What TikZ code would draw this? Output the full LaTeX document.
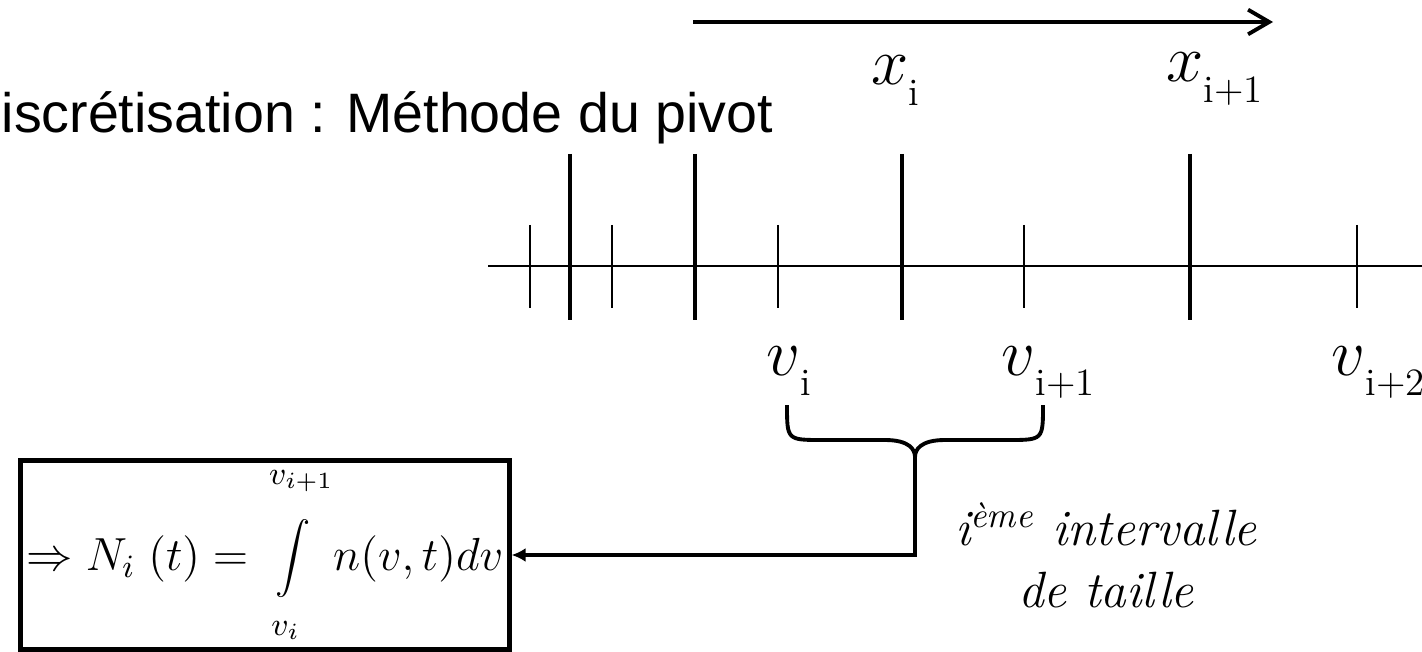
\RequirePackage{fix-cm}
\documentclass[tikz,border=0pt]{standalone}
\usepackage{fontspec}
\newfontfamily\sansfont{Liberation Sans}
\usetikzlibrary{arrows.meta}
\newcommand{\idx}[2]{$#1$\raisebox{-0.3em}{\fontsize{11}{13}\selectfont #2}}

\begin{document}
\begin{tikzpicture}[x=0.01cm,y=-0.01cm,
  axe/.style={line width=0.8pt},
  pivot/.style={line width=1.2pt},
  borne/.style={line width=0.7pt},
  lab/.style={anchor=base west,inner sep=0pt,font=\fontsize{19}{22}\selectfont},
  link/.style={line width=1.3pt,-{Latex[length=4pt,width=4pt]}}]
  \useasboundingbox (0,0) rectangle (1422,652);
  % title
  \node[anchor=base west,inner sep=0pt,font=\sansfont\fontsize{15.8}{18}\selectfont] (T) at (1,133) {iscrétisation : Méthode du pivot};
  % direction arrow
  \coordinate (AL) at (693,22);
  \coordinate (AR) at (1273,22);
  \draw[line width=1.1pt,-{Straight Barb[length=6pt,width=7pt]}] (AL) -- (AR);
  % axis and ticks
  \coordinate (OL) at (488,266);
  \coordinate (OR) at (1422,266);
  \draw[axe] (OL) -- (OR);
  \foreach \x in {570,695,902,1190} \draw[pivot] (\x,154) -- (\x,320);
  \foreach \x in {530,612,778,1024,1357} \draw[borne] (\x,225) -- (\x,308);
  % labels
  \node[lab] (XI) at (871,85) {\idx{x}{i}};
  \node[lab] (XJ) at (1166,82) {\idx{x}{i+1}};
  \node[lab] (VI) at (766,375) {\idx{v}{i}};
  \node[lab] (VJ) at (1001,375) {\idx{v}{i+1}};
  \node[lab] (VK) at (1331,375) {\idx{v}{i+2}};
  % brace
  \draw[line width=1.1pt] (787,405) .. controls (787,440) .. (822,440) -- (885,440)
     .. controls (910,440) and (915,450) .. (915,457)
     .. controls (915,450) and (920,440) .. (945,440) -- (1008,440)
     .. controls (1043,440) .. (1043,405);
  \coordinate (BR) at (915,457);
  % formula
  \node[draw,line width=1.4pt,minimum width=4.88cm,minimum height=1.88cm,inner sep=0pt,
        font=\fontsize{13.2}{16}\selectfont] (NI) at (265,555)
        {$\Rightarrow N_{i}\;(t) = \displaystyle\int\limits_{\rule{0pt}{9pt}v_i}^{v_{i+1}\rule[-9pt]{0pt}{0pt}} n(v,t)dv$};
  \draw[link] (BR) |- (NI.east);
  \node[align=center,font=\itshape\fontsize{14.5}{17.5}\selectfont] (IT) at (1106,555)
        {i\textsuperscript{ème} intervalle\\de taille};
\end{tikzpicture}
\end{document}
